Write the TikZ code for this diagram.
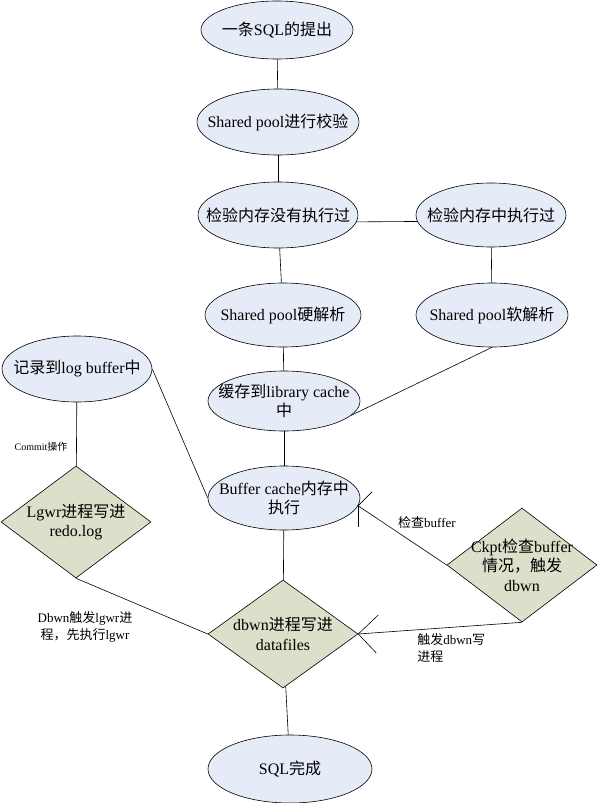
\documentclass[tikz,border=0pt]{standalone}
\usepackage{fontspec}
\setmainfont{Liberation Serif}
\newfontfamily\cjk{Noto Sans CJK SC}
\newcommand\zh[1]{{\cjk #1}}
\usetikzlibrary{shapes.geometric}

\definecolor{ellfill}{HTML}{E6ECF7}
\definecolor{diafill}{HTML}{DCDFC9}

\tikzset{
  lbl/.style={align=center, font=\fontsize{16}{19.5}\selectfont, inner sep=0pt},
  ell/.style={ellipse, draw, fill=ellfill, inner sep=0pt, label={[lbl]center:#1}},
  dia/.style={diamond, draw, fill=diafill, inner sep=0pt, label={[lbl]center:#1}},
  note/.style={font=\fontsize{13}{17}\selectfont, inner sep=0pt}
}

\begin{document}
\begin{tikzpicture}[x=1pt,y=-1pt,line width=0.6pt]
\useasboundingbox (0,0) rectangle (598,803);

% main chain
\node[ell={\zh{一条}SQL\zh{的提出}}, minimum width=152pt, minimum height=58pt] (sql) at (277,30) {};
\node[ell={Shared pool\zh{进行校验}}, minimum width=162pt, minimum height=66pt] (pool) at (278,122) {};
\node[ell={\zh{检验内存没有执行过}}, minimum width=160pt, minimum height=66pt] (chk1) at (278,215) {};
\node[ell={\zh{检验内存中执行过}}, minimum width=150pt, minimum height=64pt] (chk2) at (491,215) {};
\node[ell={Shared pool\zh{硬解析}}, minimum width=156pt, minimum height=64pt] (hard) at (283,315) {};
\node[ell={Shared pool\zh{软解析}}, minimum width=152pt, minimum height=64pt] (soft) at (492,315) {};
\node[ell={\zh{缓存到}library cache\\\zh{中}}, minimum width=152pt, minimum height=60pt] (cache) at (284,401) {};
\node[ell={\zh{记录到}log buffer\zh{中}}, minimum width=150pt, minimum height=66pt] (log) at (77,369) {};
\node[ell={Buffer cache\zh{内存中}\\\zh{执行}}, minimum width=152pt, minimum height=64pt] (buf) at (284,498) {};
\node[ell={SQL\zh{完成}}, minimum width=164pt, minimum height=68pt] (done) at (290,769) {};

% writers
\node[dia={Lgwr\zh{进程写进}\\redo.log}, minimum width=150pt, minimum height=112pt] (lgwr) at (76,522) {};
\node[dia={dbwn\zh{进程写进}\\datafiles}, minimum width=150pt, minimum height=108pt] (dbwn) at (283,634) {};
\node[dia={Ckpt\zh{检查}buffer\\\zh{情况，触发}\\dbwn}, minimum width=150pt, minimum height=114pt] (ckpt) at (522,565) {};

\draw (sql) -- (pool);
\draw (pool) -- (chk1);
\draw (chk1.-5) -- (chk2.185);
\draw (chk1) -- (hard);
\draw (chk2) -- (soft);
\draw (hard) -- (cache);
\draw (soft.south) -- (cache.-12);
\draw (cache) -- (buf);
\draw (log.east) -- (buf.west);
\draw (log) -- (lgwr);
\draw (buf) -- (dbwn);
\draw (dbwn) -- (done);
\draw (lgwr.south) -- (dbwn.west);

\draw (buf.-6) -- (ckpt.west);
\draw (buf.-6) -- ++(14,-14);
\draw (buf.-6) -- ++(0,21);

\draw (ckpt.south) -- (dbwn.east);
\draw (dbwn.east) -- ++(20,-19);
\draw (dbwn.east) -- ++(18,19);

% edge texts
\node[note, font=\fontsize{10}{12}\selectfont] (commit) at (41,447) {Commit\zh{操作}};
\node[note] (chkbuf) at (427,523) {\zh{检查}buffer};
\node[note, align=center] (dbwnlg) at (85,627) {Dbwn\zh{触发}lgwr\zh{进}\\\zh{程，先执行}lgwr};
\node[note, align=left, anchor=north west] (trig) at (417,633) {\zh{触发}dbwn\zh{写}\\\zh{进程}};
\end{tikzpicture}
\end{document}
